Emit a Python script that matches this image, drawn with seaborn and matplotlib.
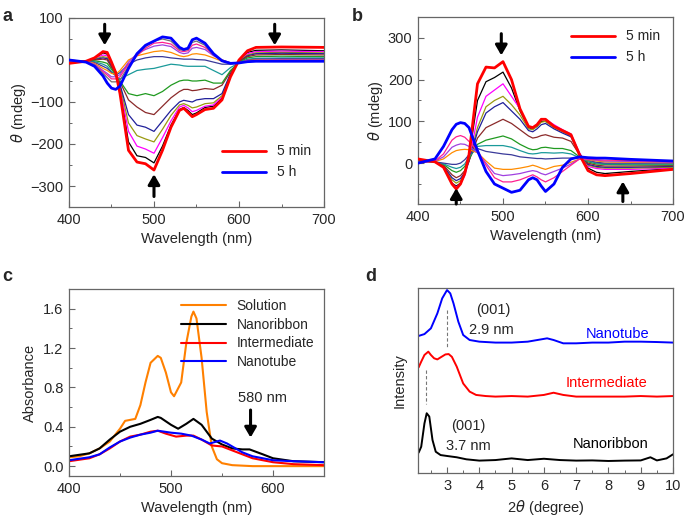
import numpy as np
import pandas as pd
import matplotlib
matplotlib.use("Agg")
import matplotlib.pyplot as plt
from matplotlib.ticker import MultipleLocator, AutoMinorLocator
import seaborn as sns

sns.set_style("ticks")
plt.rcParams['font.family'] = ['Liberation Sans', 'DejaVu Sans']
plt.rcParams['mathtext.fontset'] = 'dejavusans'
plt.rcParams['lines.solid_joinstyle'] = 'round'
plt.rcParams['lines.solid_capstyle'] = 'round'

# ---------------- data ----------------
wl_ab = [400, 420, 430, 440, 445, 450, 455, 460, 470, 480, 490, 500, 510, 520,
         530, 535, 540, 545, 550, 560, 570, 580, 590, 600, 610, 620, 650, 700]

cd_colors_a = ['#ff0000', '#000000', '#ff00ff', '#9a9a10', '#20209a', '#8b2a2a', '#209a20',
               '#1a9a9a', '#3a3a9a', '#ff8c00', '#a040e0', '#ff2090', '#707070', '#0000ff']
cd_colors_b = ['#ff0000', '#000000', '#ff00ff', '#9a9a10', '#20209a', '#8b2a2a', '#209a20',
               '#1a9a9a', '#3a3a9a', '#ff8c00', '#a040e0', '#ff2090', '#0000ff']

a_5min = [-8, -3, 5, 20, 18, -5, -30, -80, -215, -243, -247, -262, -215, -160, -120, -115, -125, -135, -130, -118, -115, -95, -40, 0, 22, 30, 31, 30]
a_c1 = [-6, -3, 4, 17, 14, -8, -28, -72, -195, -228, -232, -245, -205, -155, -118, -113, -120, -130, -126, -113, -110, -92, -38, 0, 18, 23, 24, 22]
a_c2 = [-5, -3, 3, 12, 10, -10, -28, -65, -170, -205, -212, -222, -185, -145, -112, -108, -114, -123, -120, -110, -107, -88, -36, -2, 15, 20, 21, 20]
a_c3 = [-5, -3, 2, 8, 6, -12, -30, -60, -150, -180, -188, -195, -165, -132, -107, -104, -108, -114, -112, -104, -102, -85, -34, -3, 12, 17, 18, 17]
a_c4 = [-4, -3, 1, 5, 3, -15, -32, -58, -130, -155, -160, -170, -145, -120, -100, -96, -98, -100, -95, -92, -92, -80, -32, -4, 10, 15, 16, 15]
a_c5 = [-4, -3, 0, 2, 0, -18, -34, -52, -95, -112, -125, -130, -110, -90, -75, -70, -70, -73, -72, -68, -70, -60, -28, -5, 8, 12, 13, 12]
a_c6 = [-3, -3, -2, -5, -8, -22, -36, -50, -80, -85, -80, -85, -75, -60, -50, -48, -48, -50, -50, -48, -55, -55, -25, -6, 5, 8, 9, 8]
a_c7 = [-3, -3, -4, -10, -15, -28, -38, -45, -35, -25, -22, -20, -15, -10, -12, -14, -15, -15, -15, -15, -25, -35, -18, -7, 2, 4, 5, 5]
a_c8 = [-2, -3, -6, -15, -20, -30, -36, -30, -10, 0, 5, 8, 8, 5, 3, 2, 2, 2, 1, 0, -5, -10, -10, -7, 0, 2, 3, 3]
a_c9 = [-2, -3, -8, -20, -25, -32, -34, -25, 0, 10, 15, 20, 22, 18, 10, 8, 10, 14, 15, 12, 5, -3, -8, -7, -1, 0, 1, 1]
a_c10 = [-1, -4, -10, -25, -32, -40, -40, -35, -5, 15, 25, 33, 36, 32, 18, 15, 17, 28, 30, 25, 10, 0, -7, -7, -2, -1, 0, 0]
a_c11 = [-1, -4, -11, -28, -36, -45, -45, -40, -10, 10, 28, 40, 42, 38, 22, 20, 22, 35, 38, 30, 12, 0, -7, -7, -2, -1, -1, -1]
a_c12 = [0, -4, -12, -32, -42, -52, -52, -48, -15, 12, 32, 45, 50, 45, 25, 23, 25, 42, 45, 35, 12, 0, -7, -7, -3, -2, -2, -2]
a_5h = [0, -5, -15, -38, -55, -67, -70, -62, -20, 15, 35, 45, 55, 52, 30, 25, 28, 48, 52, 40, 15, -2, -8, -7, -4, -3, -3, -3]

b_5min = [10, 3, -10, -50, -62, -50, -25, 20, 190, 230, 228, 243, 200, 130, 88, 85, 92, 105, 105, 88, 78, 68, 20, -18, -28, -30, -25, -15]
b_c1 = [8, 3, -10, -48, -55, -48, -25, 15, 150, 195, 205, 218, 180, 125, 85, 82, 88, 100, 100, 87, 77, 68, 22, -12, -22, -25, -20, -13]
b_c2 = [7, 3, -10, -48, -58, -50, -30, 5, 110, 160, 175, 190, 160, 130, 88, 83, 92, 104, 105, 92, 80, 70, 25, -8, -13, -15, -15, -12]
b_c3 = [6, 3, -8, -40, -48, -42, -25, 5, 85, 135, 150, 160, 140, 115, 82, 80, 88, 98, 100, 85, 75, 65, 22, -5, -10, -12, -12, -10]
b_c4 = [6, 3, -7, -35, -42, -37, -22, 5, 75, 120, 135, 145, 125, 105, 78, 75, 82, 92, 95, 82, 72, 63, 22, -3, -8, -10, -10, -8]
b_c5 = [5, 3, -5, -28, -35, -30, -18, 5, 60, 85, 95, 105, 95, 80, 65, 60, 62, 66, 68, 62, 60, 52, 20, 0, -5, -7, -7, -6]
b_c6 = [4, 3, -3, -18, -22, -18, -8, 10, 45, 55, 60, 65, 58, 45, 35, 32, 33, 37, 38, 35, 35, 30, 15, 3, -2, -3, -4, -4]
b_c7 = [3, 3, -2, -10, -13, -10, -2, 15, 40, 42, 42, 42, 38, 30, 23, 22, 23, 25, 25, 24, 25, 22, 13, 5, 0, -2, -2, -2]
b_c8 = [2, 3, 0, -3, -3, 0, 8, 20, 35, 28, 25, 22, 20, 15, 13, 12, 11, 11, 10, 11, 12, 12, 12, 7, 2, 0, 0, 0]
b_c9 = [2, 4, 10, 25, 30, 32, 33, 32, 25, 5, -12, -15, -15, -12, -8, -5, -8, -12, -15, -8, -5, 2, 10, 8, 5, 3, 2, 1]
b_c10 = [1, 5, 15, 38, 43, 46, 45, 40, 25, 0, -25, -30, -28, -25, -20, -18, -20, -25, -28, -20, -12, -2, 10, 9, 7, 5, 4, 2]
b_c11 = [1, 5, 22, 55, 63, 66, 62, 52, 30, -5, -35, -45, -45, -40, -32, -28, -33, -40, -45, -35, -20, -5, 10, 10, 8, 7, 6, 3]
b_5h = [0, 10, 40, 80, 93, 97, 95, 85, 30, -20, -50, -60, -70, -65, -40, -35, -40, -55, -68, -50, -10, 10, 15, 13, 12, 12, 9, 5]

a_series = [a_5min, a_c1, a_c2, a_c3, a_c4, a_c5, a_c6, a_c7, a_c8, a_c9, a_c10, a_c11, a_c12, a_5h]
b_series = [b_5min, b_c1, b_c2, b_c3, b_c4, b_c5, b_c6, b_c7, b_c8, b_c9, b_c10, b_c11, b_5h]

# panel c: absorbance
sol_wl = [400, 410, 420, 430, 440, 450, 455, 460, 465, 470, 475, 480, 487, 490, 495, 500, 503, 510, 515, 520, 522, 525, 530, 535, 540, 545, 550, 560, 580, 600, 650]
sol_abs = [0.09, 0.10, 0.13, 0.18, 0.25, 0.38, 0.46, 0.47, 0.48, 0.62, 0.85, 1.05, 1.12, 1.10, 0.95, 0.75, 0.71, 0.85, 1.25, 1.52, 1.57, 1.50, 1.10, 0.55, 0.20, 0.07, 0.03, 0.01, 0.0, 0.0, 0.0]
rib_wl = [400, 420, 430, 440, 450, 460, 470, 480, 487, 490, 500, 507, 515, 522, 530, 540, 550, 560, 570, 577, 590, 600, 620, 650]
rib_abs = [0.10, 0.13, 0.18, 0.27, 0.35, 0.40, 0.43, 0.47, 0.50, 0.49, 0.42, 0.38, 0.43, 0.48, 0.42, 0.28, 0.22, 0.18, 0.17, 0.17, 0.12, 0.08, 0.05, 0.04]
int_wl = [400, 420, 430, 440, 450, 460, 470, 480, 487, 495, 505, 515, 522, 530, 540, 550, 560, 570, 580, 600, 620, 650]
int_abs = [0.05, 0.08, 0.12, 0.18, 0.25, 0.30, 0.32, 0.35, 0.36, 0.33, 0.30, 0.31, 0.31, 0.27, 0.21, 0.20, 0.16, 0.12, 0.08, 0.04, 0.02, 0.01]
tube_wl = [400, 420, 430, 440, 450, 460, 470, 480, 487, 500, 510, 520, 530, 538, 548, 555, 570, 580, 600, 620, 650]
tube_abs = [0.06, 0.09, 0.12, 0.19, 0.25, 0.29, 0.32, 0.34, 0.36, 0.34, 0.33, 0.31, 0.27, 0.23, 0.26, 0.23, 0.14, 0.10, 0.06, 0.05, 0.04]

# panel d: XRD (offset intensities, arbitrary units)
rib_2t = [2.12, 2.2, 2.3, 2.37, 2.45, 2.55, 2.65, 2.8, 3.0, 3.3, 3.6, 4.0, 4.5, 5.0, 5.5, 6.0, 6.5, 7.0, 7.5, 8.0, 8.5, 9.0, 9.3, 9.5, 9.8, 10.0]
rib_int = [1.10, 1.42, 2.68, 3.23, 3.05, 1.78, 1.15, 0.97, 0.92, 0.85, 0.74, 0.67, 0.70, 0.79, 0.70, 0.77, 0.70, 0.67, 0.68, 0.65, 0.67, 0.68, 0.85, 0.68, 0.79, 1.01]
int_2t = [2.12, 2.2, 2.3, 2.42, 2.5, 2.6, 2.7, 2.8, 2.95, 3.05, 3.15, 3.3, 3.5, 3.7, 3.9, 4.2, 4.5, 5.0, 5.5, 6.0, 6.3, 6.6, 7.0, 7.5, 8.0, 8.5, 9.0, 9.5, 10.0]
int_int = [5.71, 6.02, 6.38, 6.56, 6.38, 6.20, 6.14, 6.25, 6.41, 6.43, 6.28, 5.75, 4.84, 4.40, 4.22, 4.16, 4.13, 4.16, 4.13, 4.22, 4.34, 4.22, 4.13, 4.13, 4.13, 4.13, 4.16, 4.13, 4.16]
tube_2t = [2.12, 2.3, 2.5, 2.7, 2.85, 3.0, 3.1, 3.2, 3.35, 3.5, 3.7, 4.0, 4.5, 5.0, 5.5, 5.8, 6.1, 6.3, 6.6, 7.0, 7.5, 8.0, 8.5, 9.0, 9.5, 10.0]
tube_int = [7.41, 7.51, 7.82, 8.63, 9.44, 9.89, 9.71, 9.17, 8.18, 7.46, 7.19, 7.10, 7.05, 7.05, 7.10, 7.19, 7.28, 7.19, 7.01, 7.01, 7.05, 7.05, 7.10, 7.10, 7.08, 7.05]

# ---------------- figure ----------------
fig = plt.figure(figsize=(6.85, 5.23), dpi=100)
FS = 10.5
SPINE = '#666666'

def style(ax):
    for s in ax.spines.values():
        s.set_color(SPINE)
        s.set_linewidth(0.9)
    ax.tick_params(which='both', direction='in', color=SPINE, labelsize=FS, top=False, right=False)
    ax.tick_params(which='major', length=4, width=0.8, pad=4)
    ax.tick_params(which='minor', length=2.5, width=0.7)

def arrow(ax, x, y0, y1):
    ax.annotate('', xy=(x, y1), xytext=(x, y0),
                arrowprops=dict(arrowstyle='-|>,head_width=0.35,head_length=0.6', color='black', lw=2.2,
                                shrinkA=0, shrinkB=0))

# panel a
axa = fig.add_axes([0.1007, 0.6042, 0.3723, 0.3614])
for i, (ys, c) in enumerate(zip(a_series, cd_colors_a)):
    thick = i in (0, len(a_series) - 1)
    lab = '5 min' if i == 0 else ('5 h' if i == len(a_series) - 1 else None)
    sns.lineplot(x=wl_ab, y=ys, ax=axa, color=c, lw=2.0 if thick else 0.9, label=lab,
                 zorder=3 if thick else 2, legend=bool(lab))
axa.set_xlim(400, 700)
axa.set_ylim(-350, 100)
axa.xaxis.set_major_locator(MultipleLocator(100))
axa.xaxis.set_minor_locator(MultipleLocator(50))
axa.yaxis.set_major_locator(MultipleLocator(100))
axa.yaxis.set_minor_locator(MultipleLocator(50))
axa.set_xlabel('Wavelength (nm)', fontsize=FS)
axa.set_ylabel(r'$\theta$ (mdeg)', fontsize=FS, labelpad=2)
arrow(axa, 442, 85, 35)
arrow(axa, 642, 85, 35)
arrow(axa, 500, -325, -272)
style(axa)
axa.legend(loc='lower right', frameon=False, fontsize=10, handlelength=3.2, labelspacing=0.5,
           bbox_to_anchor=(1.0, 0.08))

# panel b
axb = fig.add_axes([0.6102, 0.6099, 0.3723, 0.3576])
for i, (ys, c) in enumerate(zip(b_series, cd_colors_b)):
    thick = i in (0, len(b_series) - 1)
    lab = '5 min' if i == 0 else ('5 h' if i == len(b_series) - 1 else None)
    sns.lineplot(x=wl_ab, y=ys, ax=axb, color=c, lw=2.0 if thick else 0.9, label=lab,
                 zorder=3 if thick else 2, legend=bool(lab))
axb.set_xlim(400, 700)
axb.set_ylim(-98, 350)
axb.xaxis.set_major_locator(MultipleLocator(100))
axb.xaxis.set_minor_locator(MultipleLocator(50))
axb.yaxis.set_major_locator(MultipleLocator(100))
axb.yaxis.set_minor_locator(MultipleLocator(50))
axb.set_xlabel('Wavelength (nm)', fontsize=FS)
axb.set_ylabel(r'$\theta$ (mdeg)', fontsize=FS, labelpad=2)
arrow(axb, 498, 310, 258)
arrow(axb, 445, -98, -60)
arrow(axb, 641, -92, -44)
style(axb)
axb.legend(loc='upper right', frameon=False, fontsize=10, handlelength=3.2, labelspacing=0.5)

# panel c
axc = fig.add_axes([0.1007, 0.0899, 0.3723, 0.3576])
c_sets = [('Solution', sol_wl, sol_abs, '#ff8000'), ('Nanoribbon', rib_wl, rib_abs, '#000000'),
          ('Intermediate', int_wl, int_abs, '#ff0000'), ('Nanotube', tube_wl, tube_abs, '#0000ff')]
for name, xs, ys, c in c_sets:
    sns.lineplot(x=xs, y=ys, ax=axc, color=c, lw=1.5, label=name)
axc.set_xlim(400, 650)
axc.set_ylim(-0.1, 1.8)
axc.xaxis.set_major_locator(MultipleLocator(100))
axc.xaxis.set_minor_locator(MultipleLocator(50))
axc.yaxis.set_major_locator(MultipleLocator(0.4))
axc.yaxis.set_minor_locator(MultipleLocator(0.2))
axc.yaxis.set_major_formatter(matplotlib.ticker.FormatStrFormatter('%.1f'))
axc.set_xlabel('Wavelength (nm)', fontsize=FS)
axc.set_ylabel('Absorbance', fontsize=FS, labelpad=4)
arrow(axc, 578, 0.57, 0.29)
axc.text(590, 0.62, '580 nm', fontsize=FS, ha='center', va='bottom')
style(axc)
axc.legend(loc='upper right', frameon=False, fontsize=10, handlelength=3.2, labelspacing=0.35,
           borderaxespad=0.3)

# panel d
axd = fig.add_axes([0.6102, 0.0956, 0.3723, 0.3537])
d_sets = [('Nanoribbon', rib_2t, rib_int, '#000000'), ('Intermediate', int_2t, int_int, '#ff0000'),
          ('Nanotube', tube_2t, tube_int, '#0000ff')]
for name, xs, ys, c in d_sets:
    sns.lineplot(x=xs, y=ys, ax=axd, color=c, lw=1.4, legend=False)
axd.plot([3.0, 3.0], [8.8, 6.75], ls=(0, (3, 2)), color='#777777', lw=0.8)
axd.plot([2.36, 2.36], [5.55, 3.75], ls=(0, (3, 2)), color='#777777', lw=0.8)
axd.set_xlim(2.1, 10)
axd.set_ylim(0, 10)
axd.xaxis.set_major_locator(MultipleLocator(1))
axd.xaxis.set_minor_locator(MultipleLocator(0.5))
axd.set_yticks([])
axd.set_xlabel(r'2$\theta$ (degree)', fontsize=FS)
axd.set_ylabel('Intensity', fontsize=FS, labelpad=8)
axd.text(4.42, 8.8, '(001)', fontsize=FS, ha='center', va='center')
axd.text(4.38, 7.72, '2.9 nm', fontsize=FS, ha='center', va='center')
axd.text(3.66, 2.55, '(001)', fontsize=FS, ha='center', va='center')
axd.text(3.66, 1.47, '3.7 nm', fontsize=FS, ha='center', va='center')
axd.text(8.28, 7.5, 'Nanotube', fontsize=FS, ha='center', va='center', color='#0000ff')
axd.text(7.95, 4.84, 'Intermediate', fontsize=FS, ha='center', va='center', color='#ff0000')
axd.text(8.07, 1.56, 'Nanoribbon', fontsize=FS, ha='center', va='center', color='#000000')
style(axd)

# panel letters
for lab, x, y in [('a', 0.003, 0.985), ('b', 0.513, 0.985), ('c', 0.003, 0.487), ('d', 0.533, 0.487)]:
    fig.text(x, y, lab, fontsize=13, fontweight='bold', ha='left', va='top')

fig.savefig('out.png', dpi=100)
